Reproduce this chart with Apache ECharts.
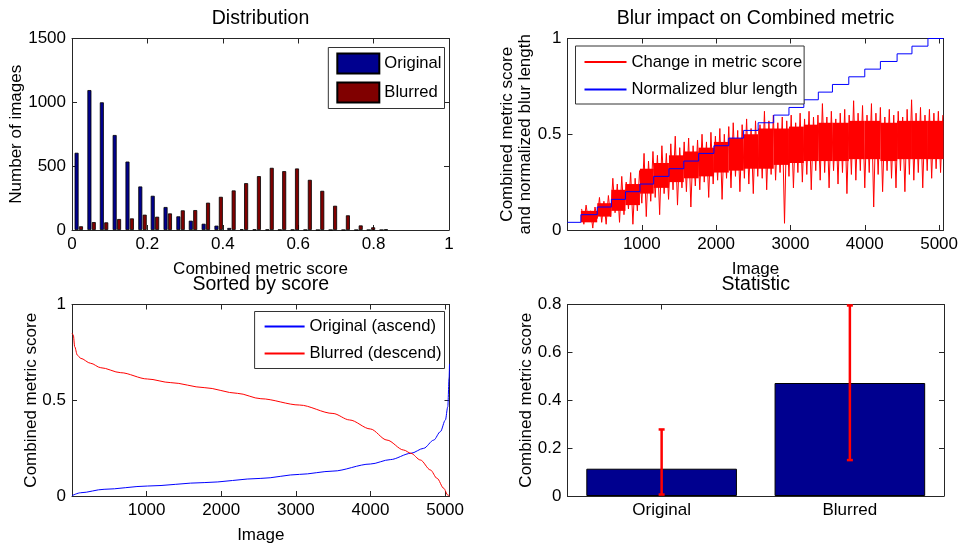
<!DOCTYPE html>
<html>
<head>
<meta charset="utf-8">
<title>Blur metric</title>
<script src="https://cdn.jsdelivr.net/npm/echarts@6/dist/echarts.min.js"></script>
<style>
  html, body { margin: 0; padding: 0; background: #fff; }
  #main { width: 961px; height: 548px; }
</style>
</head>
<body>
<div id="main"></div>
<script>
// --- Distribution (histogram) ---
const binCenters = [0.018, 0.052, 0.085, 0.119, 0.153, 0.187, 0.220, 0.254, 0.288, 0.321, 0.355, 0.389, 0.423,
  0.456, 0.490, 0.524, 0.557, 0.591, 0.625, 0.658, 0.692, 0.726, 0.760, 0.793, 0.827]
const histOriginal = [605, 1096, 1000, 744, 536, 341, 268, 180, 107, 73, 49, 34, 16, 6, 4, 3, 2, 2, 1, 0, 0, 0, 0, 0, 0]
const histBlurred = [29, 62, 60, 86, 91, 120, 104, 130, 154, 156, 214, 260, 310, 367, 422, 487, 461, 482, 393, 307,
  190, 115, 36, 21, 4]

// --- Blur impact ---
// image index where each blur length starts, and its normalized length
const blurStepIdx = [180, 400, 590, 780, 975, 1160, 1365, 1565, 1765, 1970, 2170, 2370, 2565, 2775, 2980, 3180,
  3375, 3565, 3785, 4000, 4210, 4435, 4635, 4850]
const blurLevels = [0.08, 0.12, 0.16, 0.20, 0.24, 0.28, 0.32, 0.36, 0.40, 0.44, 0.48, 0.52, 0.56, 0.60, 0.64, 0.68,
  0.72, 0.76, 0.80, 0.84, 0.88, 0.92, 0.96, 1.00]
const blurStartLevel = 0.04
// dense part of the red band for each blur length
const coreHigh = [0.10, 0.14, 0.21, 0.24, 0.32, 0.35, 0.39, 0.41, 0.43, 0.46, 0.48, 0.50, 0.53, 0.53, 0.54, 0.55,
  0.56, 0.56, 0.57, 0.57, 0.56, 0.57, 0.57, 0.57]
const coreLow = [0.04, 0.07, 0.10, 0.13, 0.19, 0.22, 0.25, 0.27, 0.28, 0.30, 0.31, 0.32, 0.32, 0.34, 0.35, 0.36,
  0.36, 0.36, 0.37, 0.37, 0.36, 0.37, 0.37, 0.37]
// change in metric score, sampled every 30 images from image 190 (peaks and dips)
const noiseStart = 190
const noiseStep = 30
const noiseValues = [
  0.11, 0.03, 0.13, 0.05, 0.10, 0.01, 0.12, 0.06, 0.17, 0.04,
  0.15, 0.03, 0.18, 0.07, 0.27, 0.09, 0.24, 0.04, 0.28, 0.08,
  0.25, 0.11, 0.30, 0.03, 0.27, 0.10, 0.31, 0.14, 0.40, 0.07,
  0.36, 0.15, 0.41, 0.17, 0.39, 0.08, 0.44, 0.19, 0.40, 0.16,
  0.45, 0.21, 0.49, 0.13, 0.43, 0.22, 0.46, 0.20, 0.48, 0.12,
  0.44, 0.23, 0.47, 0.21, 0.50, 0.25, 0.46, 0.17, 0.51, 0.24,
  0.49, 0.26, 0.53, 0.16, 0.50, 0.27, 0.54, 0.22, 0.56, 0.28,
  0.52, 0.20, 0.55, 0.27, 0.58, 0.24, 0.53, 0.19, 0.57, 0.28,
  0.55, 0.27, 0.62, 0.21, 0.57, 0.29, 0.60, 0.26, 0.56, 0.30,
  0.59, 0.035, 0.57, 0.28, 0.60, 0.22, 0.56, 0.30, 0.61, 0.25,
  0.58, 0.29, 0.62, 0.21, 0.59, 0.31, 0.60, 0.26, 0.66, 0.30,
  0.59, 0.22, 0.62, 0.31, 0.58, 0.24, 0.61, 0.30, 0.63, 0.19,
  0.60, 0.29, 0.675, 0.26, 0.61, 0.31, 0.65, 0.22, 0.60, 0.30,
  0.66, 0.12, 0.61, 0.29, 0.64, 0.20, 0.59, 0.31, 0.63, 0.27,
  0.60, 0.22, 0.62, 0.31, 0.59, 0.20, 0.63, 0.29, 0.68, 0.26,
  0.61, 0.30, 0.64, 0.22, 0.60, 0.31, 0.63, 0.27, 0.61, 0.32,
  0.62, 0.30, 0.60
]
const imageCount = 5059

// --- Sorted by score ---
const ascIdx = [1, 116, 430, 1010, 1771, 2531, 3050, 3497, 3998, 4266, 4542, 4713, 4848, 4937, 5004, 5036, 5054, 5059]
const ascScore = [0.002, 0.017, 0.035, 0.052, 0.07, 0.092, 0.113, 0.13, 0.167, 0.19, 0.223, 0.249, 0.292, 0.336,
  0.397, 0.466, 0.62, 0.69]
const descIdx = [1, 18, 36, 71, 116, 250, 385, 653, 1010, 1324, 1771, 2218, 2531, 3050, 3497, 3721, 3998, 4221,
  4445, 4542, 4669, 4803, 4893, 4982, 5036, 5059]
const descScore = [0.85, 0.84, 0.78, 0.736, 0.719, 0.693, 0.67, 0.644, 0.611, 0.592, 0.566, 0.536, 0.508, 0.475,
  0.431, 0.397, 0.35, 0.292, 0.24, 0.223, 0.188, 0.136, 0.092, 0.04, 0.005, 0]

// --- Statistic ---
const statCategories = ['Original', 'Blurred']
const statMean = [0.114, 0.472]
const statLow = [0.006, 0.15]
const statHigh = [0.278, 0.796]

const FONT = '"Liberation Sans", Arial, Helvetica, sans-serif'
const AXIS_COLOR = '#262626'

// bottom/left axis plus a mirrored top/right one so every plot gets a closed box with ticks
function boxAxes(dim, opt, title) {
  const base = {
    gridIndex: opt.grid,
    type: opt.type || 'value',
    min: opt.min,
    max: opt.max,
    interval: opt.interval,
    data: opt.data,
    boundaryGap: opt.type === 'category' ? true : undefined,
    nameMoveOverlap: false,
    axisLine: { show: true, onZero: false, lineStyle: { color: AXIS_COLOR, width: 1 } },
    axisTick: { show: true, inside: true, length: 5, alignWithLabel: true, lineStyle: { color: AXIS_COLOR } },
    splitLine: { show: false }
  }
  const main = Object.assign({}, base, {
    position: dim === 'x' ? 'bottom' : 'left',
    name: opt.name,
    nameLocation: 'middle',
    nameGap: opt.nameGap,
    nameTextStyle: { fontSize: 17, fontFamily: FONT, color: '#000', lineHeight: 18 },
    axisLabel: {
      fontSize: 17, fontFamily: FONT, color: '#000', margin: 6,
      formatter: opt.formatter || (opt.type === 'category' ? undefined : v => String(+v.toFixed(4)))
    }
  })
  const mirror = Object.assign({}, base, {
    position: dim === 'x' ? 'top' : 'right',
    axisLabel: { show: false }
  })
  if (title) {
    mirror.name = title
    mirror.nameLocation = 'middle'
    mirror.nameGap = 10
    mirror.nameTextStyle = { fontSize: 19.5, fontFamily: FONT, color: '#000' }
  }
  return [main, mirror]
}

const imageLabel = v => (v > 0 && v % 1000 === 0 ? String(v) : '')

const xAxes = [].concat(
  boxAxes('x', { grid: 0, min: 0, max: 1, interval: 0.2, name: 'Combined metric score', nameGap: 30 }, 'Distribution'),
  boxAxes('x', { grid: 1, min: 0, max: imageCount, interval: 1000, name: 'Image', nameGap: 30, formatter: imageLabel },
    'Blur impact on Combined metric'),
  boxAxes('x', { grid: 2, min: 0, max: imageCount, interval: 1000, name: 'Image', nameGap: 30.5, formatter: imageLabel },
    'Sorted by score'),
  boxAxes('x', { grid: 3, type: 'category', data: statCategories }, 'Statistic')
)
const yAxes = [].concat(
  boxAxes('y', { grid: 0, min: 0, max: 1500, interval: 500, name: 'Number of images', nameGap: 47 }),
  boxAxes('y', { grid: 1, min: 0, max: 1, interval: 0.5,
    name: 'Combined metric score\nand normalized blur length', nameGap: 33 }),
  boxAxes('y', { grid: 2, min: 0, max: 1, interval: 0.5, name: 'Combined metric score', nameGap: 32 }),
  boxAxes('y', { grid: 3, min: 0, max: 0.8, interval: 0.2, name: 'Combined metric score', nameGap: 32 })
)

// series data
const histOrigData = binCenters.map((c, i) => [c, histOriginal[i]])
const histBlurData = binCenters.map((c, i) => [c, histBlurred[i]])

const bandData = blurStepIdx.map((x, i) => [x, i + 1 < blurStepIdx.length ? blurStepIdx[i + 1] : imageCount,
  coreLow[i], coreHigh[i]])
const noiseData = noiseValues.map((v, i) => [noiseStart + i * noiseStep, v])
const blurData = [[0, blurStartLevel]].concat(blurStepIdx.map((x, i) => [x, blurLevels[i]]))
blurData.push([imageCount, blurLevels[blurLevels.length - 1]])

const ascData = ascIdx.map((x, i) => [x, ascScore[i]])
const descData = descIdx.map((x, i) => [x, descScore[i]])
const errData = statCategories.map((c, i) => [i, statLow[i], statHigh[i]])

// solid part of the noisy red band, one block per blur length
function renderBand(params, api) {
  const a = api.coord([api.value(0), api.value(3)])
  const b = api.coord([api.value(1), api.value(2)])
  return {
    type: 'rect',
    shape: { x: a[0], y: a[1], width: b[0] - a[0], height: b[1] - a[1] },
    style: { fill: '#ff0000' }
  }
}

function renderErrorBar(params, api) {
  const lo = api.coord([api.value(0), api.value(1)])
  const hi = api.coord([api.value(0), api.value(2)])
  const cap = 3
  const style = { stroke: '#ff0000', lineWidth: 2.5 }
  return {
    type: 'group',
    children: [
      { type: 'line', shape: { x1: hi[0], y1: hi[1], x2: lo[0], y2: lo[1] }, style: style },
      { type: 'line', shape: { x1: hi[0] - cap, y1: hi[1], x2: hi[0] + cap, y2: hi[1] }, style: style },
      { type: 'line', shape: { x1: lo[0] - cap, y1: lo[1], x2: lo[0] + cap, y2: lo[1] }, style: style }
    ]
  }
}

const legendBase = {
  orient: 'vertical',
  backgroundColor: '#fff',
  borderColor: '#333',
  borderWidth: 1,
  borderRadius: 0,
  itemWidth: 42,
  itemHeight: 20,
  itemGap: 7,
  itemTextGap: 6,
  textStyle: { fontSize: 16.6, fontFamily: FONT, color: '#000', lineHeight: 20 },
  selectedMode: false
}

const option = {
  backgroundColor: '#fff',
  animation: false,
  grid: [
    { left: 72, top: 38.5, width: 377, height: 191.5 },
    { left: 567.5, top: 38.5, width: 376.5, height: 191.5 },
    { left: 72, top: 304.5, width: 377.5, height: 191.5 },
    { left: 567.5, top: 304.5, width: 376.5, height: 191.5 }
  ],
  xAxis: xAxes,
  yAxis: yAxes,
  legend: [
    Object.assign({}, legendBase, {
      data: ['Original', 'Blurred'], icon: 'rect', right: 516.5, top: 47.5, padding: [5, 3, 5, 8]
    }),
    Object.assign({}, legendBase, {
      data: ['Change in metric score', 'Normalized blur length'], left: 575.5, top: 46,
      padding: [6, 2, 4.5, 8], itemGap: 7.5, itemTextGap: 5, itemStyle: { opacity: 0 }
    }),
    Object.assign({}, legendBase, {
      data: ['Original (ascend)', 'Blurred (descend)'], right: 516.5, top: 311.5,
      padding: [5, 3, 5, 9], itemWidth: 40, itemStyle: { opacity: 0 }
    })
  ],
  series: [
    {
      name: 'Original', type: 'bar', xAxisIndex: 0, yAxisIndex: 0, data: histOrigData,
      barWidth: 4, barGap: '10%',
      itemStyle: { color: '#00008f', borderColor: '#000', borderWidth: 0.8 }
    },
    {
      name: 'Blurred', type: 'bar', xAxisIndex: 0, yAxisIndex: 0, data: histBlurData,
      barWidth: 4, barGap: '10%',
      itemStyle: { color: '#800000', borderColor: '#000', borderWidth: 0.8 }
    },
    {
      name: 'band', type: 'custom', xAxisIndex: 2, yAxisIndex: 2, data: bandData,
      renderItem: renderBand, encode: { x: [0, 1], y: [2, 3] }, silent: true, z: 1
    },
    {
      name: 'Change in metric score', type: 'line', xAxisIndex: 2, yAxisIndex: 2, data: noiseData,
      symbol: 'none', color: '#ff0000', lineStyle: { color: '#ff0000', width: 1 }, z: 2
    },
    {
      name: 'Normalized blur length', type: 'line', xAxisIndex: 2, yAxisIndex: 2, data: blurData,
      step: 'end', symbol: 'none', color: '#0000ff', lineStyle: { color: '#0000ff', width: 1 }, z: 3
    },
    {
      name: 'Original (ascend)', type: 'line', xAxisIndex: 4, yAxisIndex: 4, data: ascData,
      symbol: 'none', smooth: 0.3, smoothMonotone: 'x', color: '#0000ff',
      lineStyle: { color: '#0000ff', width: 1 }
    },
    {
      name: 'Blurred (descend)', type: 'line', xAxisIndex: 4, yAxisIndex: 4, data: descData,
      symbol: 'none', smooth: 0.3, smoothMonotone: 'x', color: '#ff0000',
      lineStyle: { color: '#ff0000', width: 1 }
    },
    {
      name: 'Mean score', type: 'bar', xAxisIndex: 6, yAxisIndex: 6, data: statMean,
      barWidth: '80%', itemStyle: { color: '#00008f', borderColor: '#000', borderWidth: 1 }
    },
    {
      name: 'Spread', type: 'custom', xAxisIndex: 6, yAxisIndex: 6, data: errData,
      renderItem: renderErrorBar, encode: { x: 0, y: [1, 2] }, z: 5
    }
  ]
}

const chart = echarts.init(document.getElementById('main'), null, { renderer: 'canvas' })
chart.setOption(option)
</script>
</body>
</html>
